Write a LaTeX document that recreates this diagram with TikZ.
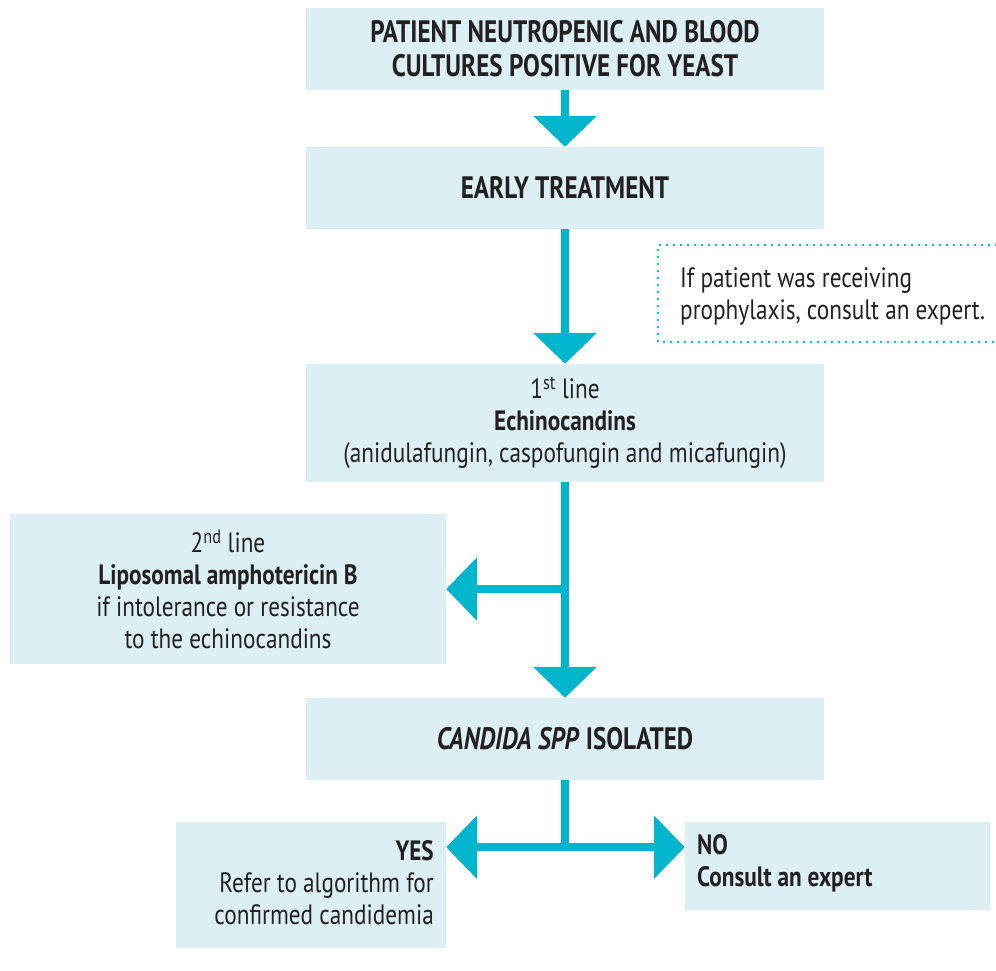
\documentclass[tikz,border=0pt]{standalone}
\usepackage{fontspec}
\setmainfont{PT Sans}[FakeStretch=0.83]
\newfontfamily\headfont{PT Sans}[FakeStretch=0.81]
\usetikzlibrary{arrows.meta,calc}
\definecolor{boxfill}{HTML}{DCEFF5}
\definecolor{arrcol}{HTML}{00B5CC}
\definecolor{txt}{HTML}{231F20}
\begin{document}
\begin{tikzpicture}[x=1pt,y=-1pt,
  box/.style={fill=boxfill, draw=none, inner sep=0pt, text=txt, font=\fontsize{28}{32}\selectfont},
  head/.style={box, font=\headfont\fontsize{31}{34}\selectfont\bfseries},
  txtnode/.style={text=txt, inner sep=0pt, font=\fontsize{28}{32}\selectfont},
  shaft/.style={draw=arrcol, line width=8pt},
  arr/.style={shaft, -{Triangle[width=62pt,length=31pt]}},
]
\useasboundingbox (0,0) rectangle (996,970);
\node[head, minimum width=518pt, minimum height=82pt, align=center] (b1) at (565,49)
  {PATIENT NEUTROPENIC AND BLOOD\\CULTURES POSITIVE FOR YEAST};
\node[head, minimum width=518pt, minimum height=82pt, align=center] (b2) at (565,188)
  {EARLY TREATMENT};
\node[box, minimum width=518pt, minimum height=118pt, align=center] (b3) at (565,423)
  {1\textsuperscript{st} line\\\textbf{Echinocandins}\\(anidulafungin, caspofungin and micafungin)};
\node[box, minimum width=436pt, minimum height=150pt, align=center] (b4) at (228,589)
  {2\textsuperscript{nd} line\\\textbf{Liposomal amphotericin B}\\if intolerance or resistance\\to the echinocandins};
\node[head, minimum width=518pt, minimum height=82pt] (b5) at (565,739)
  {\textit{CANDIDA SPP} ISOLATED};
\node[box, minimum width=270pt, minimum height=126pt] (b6) at (311,885) {};
\node[txtnode, align=right, anchor=east] (t6) at (434,883)
  {\textbf{YES}\\Refer to algorithm for\\confirmed candidemia};
\node[box, minimum width=305pt, minimum height=88pt] (b7) at (837.5,866) {};
\node[txtnode, align=left, anchor=west, font=\fontsize{28}{32}\selectfont\bfseries] (t7) at (697,863)
  {NO\\Consult an expert};
% dotted note
\coordinate (n1) at (996,245);
\coordinate (n2) at (658,245);
\coordinate (n3) at (658,342);
\coordinate (n4) at (996,342);
\draw[arrcol, line width=2.6pt, dash pattern=on 0pt off 7pt, line cap=round] (n1) -- (n2) -- (n3) -- (n4);
\node[txtnode, align=left, anchor=west] (note) at (680,296)
  {If patient was receiving\\prophylaxis, consult an expert.};
% connectors
\draw[arr] (b1.south) -- (b2.north);
\draw[arr] (b2.south) -- (b3.north);
\draw[arr] (b3.south) -- (b5.north);
\draw[arr] (b3.south |- b4.east) -- (b4.east);
\coordinate (j) at ($(b5.south)+(0,67)$);
\draw[shaft] (b5.south) -- ($(j)+(0,4)$);
\draw[arr] (j) -- (b6.east |- j);
\draw[arr] (j) -- (b7.west |- j);
\end{tikzpicture}
\end{document}
